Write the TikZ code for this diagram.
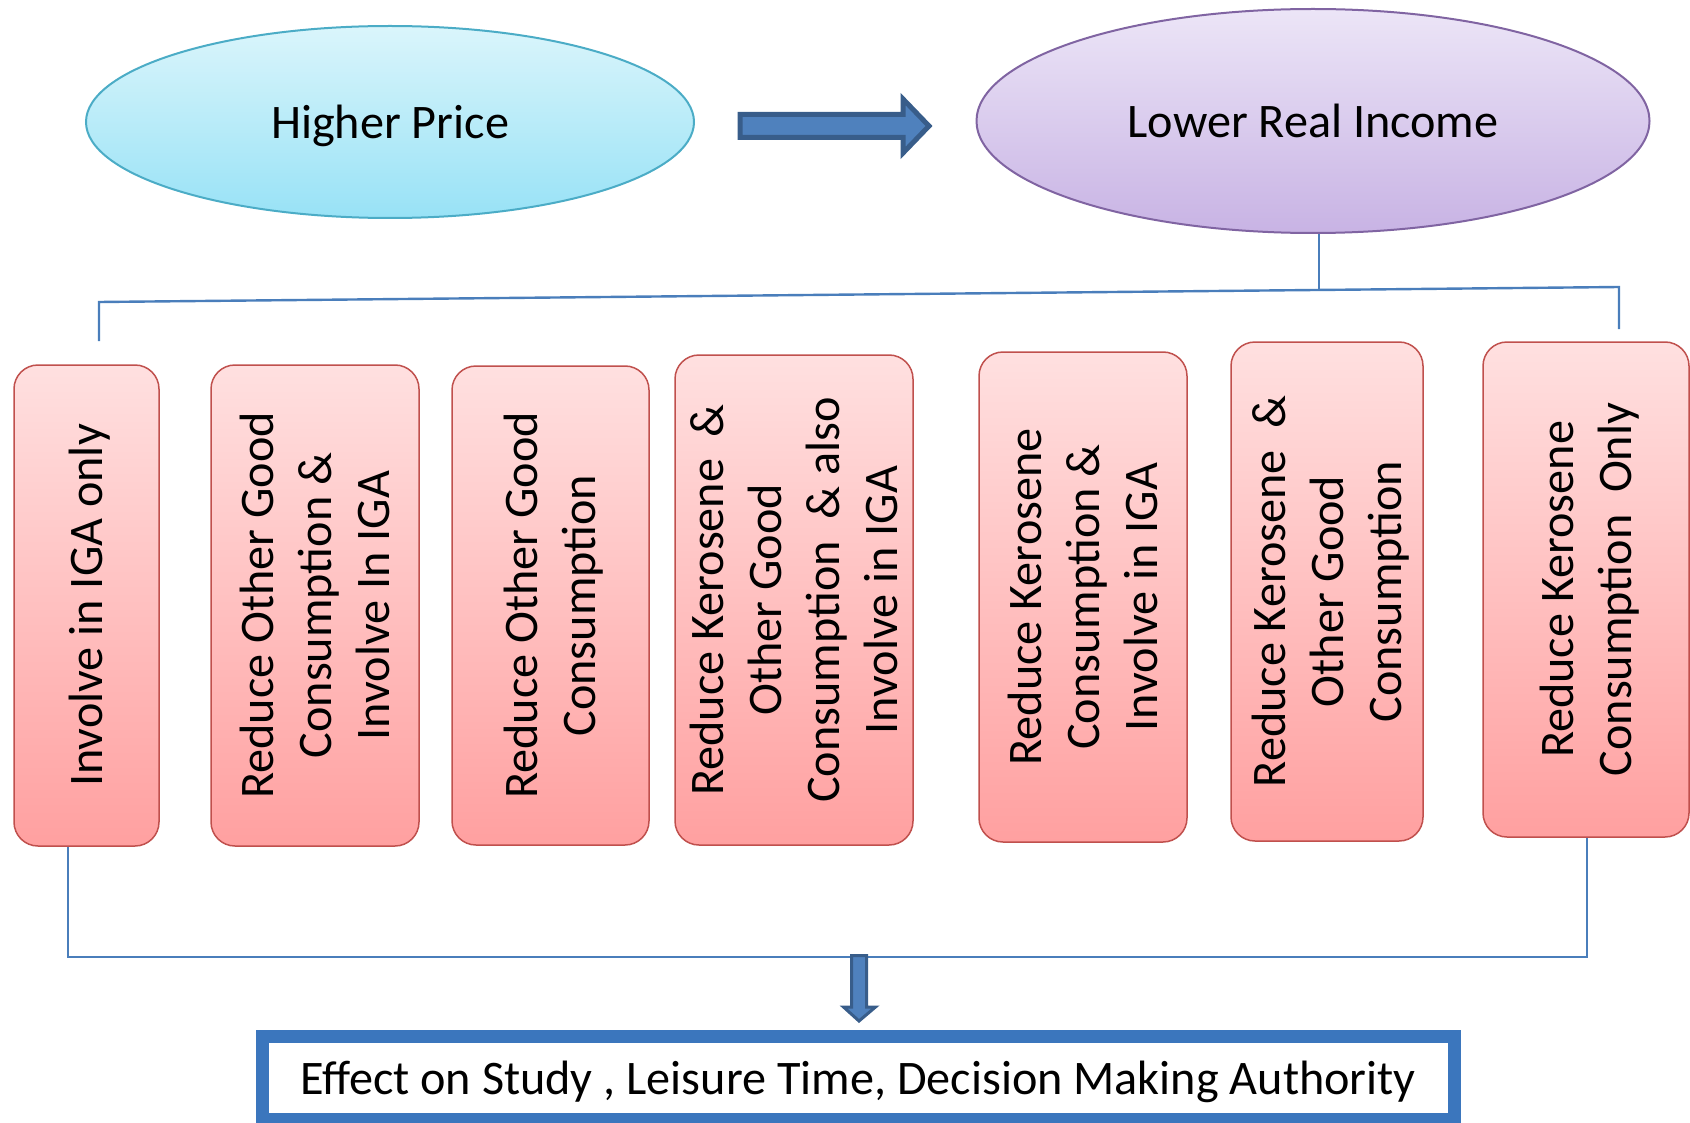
\documentclass[tikz,border=0pt]{standalone}
\usepackage{fontspec}
\setmainfont{Carlito}
\usepackage{graphicx}
\usetikzlibrary{shapes.geometric}

\definecolor{cyantop}{HTML}{DAF5FB}
\definecolor{cyanbot}{HTML}{98E2F6}
\definecolor{cyanedge}{HTML}{4BACC6}
\definecolor{purptop}{HTML}{ECE5F7}
\definecolor{purpbot}{HTML}{C8B3E4}
\definecolor{purpedge}{HTML}{8064A2}
\definecolor{boxtop}{HTML}{FFE0E0}
\definecolor{boxbot}{HTML}{FFA0A0}
\definecolor{boxedge}{HTML}{C0504D}
\definecolor{linkblue}{HTML}{4A7EBB}
\definecolor{arrowfill}{HTML}{4F81BD}
\definecolor{arrowedge}{HTML}{385D8A}
\definecolor{framecol}{HTML}{3B76BD}

\tikzset{
  oval/.style={ellipse, line width=1pt, inner sep=0pt, text height=16.9pt, text depth=0pt},
  choice/.style={draw=boxedge, line width=0.75pt, rounded corners=12pt,
    top color=boxtop, bottom color=boxbot, inner sep=0pt},
  link/.style={draw=linkblue, line width=1.2pt},
  fatarrow/.style={fill=arrowfill, draw=arrowedge, line join=miter},
}

\newcommand{\vlabel}[1]{\rotatebox{90}{\raisebox{-2.2pt}[\height][\depth]{\begin{tabular}{@{}c@{}}#1\end{tabular}}}}

\begin{document}
\begin{tikzpicture}[x=0.5pt, y=-0.5pt, font=\fontsize{24.1}{29}\selectfont]
        \useasboundingbox (0,0) rectangle (1690,1123);
        % top ellipses
        \node[oval, draw=cyanedge, top color=cyantop, bottom color=cyanbot,
            minimum width=304pt, minimum height=96pt] (price) at (390,122) {Higher Price};
        \node[oval, draw=purpedge, top color=purptop, bottom color=purpbot,
            minimum width=336.5pt, minimum height=112pt] (income) at (1313,121) {Lower Real Income};
        \draw[fatarrow, line width=2.5pt] (740,114.5)--(903,114.5)--(903,99)--(929,126)
            --(903,153)--(903,137.5)--(740,137.5)--cycle;

        % the seven choices
        \node[choice, minimum width=72.5pt, minimum height=240.5pt] (b1) at (86.5,605.5)
            {\vlabel{Involve in IGA only}};
        \node[choice, minimum width=104pt, minimum height=240.5pt] (b2) at (315,605.5)
            {\vlabel{Reduce Other Good\\Consumption \&\\Involve In IGA}};
        \node[choice, minimum width=98.5pt, minimum height=239.5pt] (b3) at (550.5,605.5)
            {\vlabel{Reduce Other Good\\Consumption}};
        \node[choice, minimum width=119pt, minimum height=245pt] (b4) at (794,600)
            {\vlabel{Reduce Kerosene\ \ \&\\Other Good\\Consumption\ \ \& also\\Involve in IGA}};
        \node[choice, minimum width=104pt, minimum height=245pt] (b5) at (1083,597)
            {\vlabel{Reduce Kerosene\\Consumption \&\\Involve in IGA}};
        \node[choice, minimum width=96pt, minimum height=249.5pt] (b6) at (1327,591.5)
            {\vlabel{Reduce Kerosene\ \ \&\\Other Good\\Consumption}};
        \node[choice, minimum width=103pt, minimum height=247.5pt] (b7) at (1586,589.5)
            {\vlabel{Reduce Kerosene\\Consumption\ \ Only}};

        % branch lines
        \coordinate (tl) at (99,302);
        \coordinate (tr) at (1619,287);
        \coordinate (tm) at (1319,290);
        \coordinate (tldrop) at (99,341);
        \coordinate (trdrop) at (1619,329);
        \draw[link] (tm |- income.south) -- (tm);
        \draw[link] (tldrop) -- (tl) -- (tr) -- (trdrop);

        \coordinate (bl) at (68,957);
        \coordinate (br) at (1587,957);
        \draw[link] (bl |- b1.south) -- (bl) -- (br) -- (br |- b7.south);

        % result
        \draw[fatarrow, line width=1.5pt] (851.5,955.5)--(866.5,955.5)--(866.5,1007)--(875.5,1007)
            --(859,1021)--(843.5,1007)--(851.5,1007)--cycle;
        \node[draw=framecol, line width=6.5pt, inner sep=0pt, minimum width=596pt,
            minimum height=41.5pt, text height=16.9pt, text depth=0pt] (effect) at (858,1077.5)
            {Effect on Study , Leisure Time, Decision Making Authority};
\end{tikzpicture}
\end{document}
